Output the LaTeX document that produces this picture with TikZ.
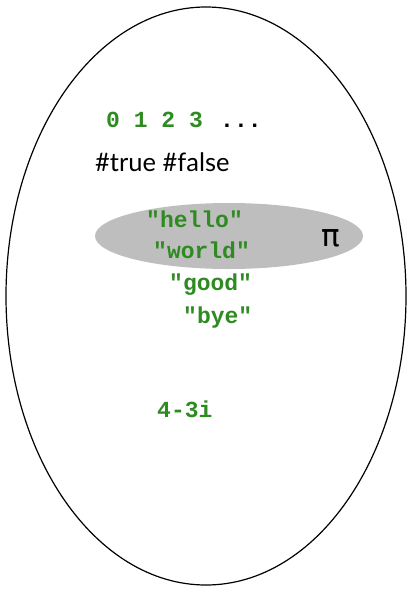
\documentclass[tikz,border=0pt]{standalone}
\usepackage{fontspec}
\setmainfont{Lato}
\setmonofont{Liberation Mono}
\newfontfamily\symfont{DejaVu Sans}
\usetikzlibrary{shapes.geometric}
\definecolor{valgreen}{RGB}{46,139,34}
\definecolor{boxgray}{RGB}{190,190,190}

\begin{document}
\begin{tikzpicture}[
		x=1pt, y=-1pt,
		V/.style = {text=valgreen, anchor=base west, inner sep=0pt,% literal values
			font=\ttfamily\bfseries\fontsize{23}{27}\selectfont},
		T/.style = {anchor=base west, inner sep=0pt,
			font=\fontsize{25.5}{30}\selectfont},
		]
		\useasboundingbox (0,0) rectangle (412,592);
		\node (all) [ellipse, draw, line width=1.2pt, minimum width=400pt, minimum height=578pt] at (206,296) {};
		\node (str) [ellipse, fill=boxgray, minimum width=268pt, minimum height=66pt] at (229,236) {};
		\node (num)  [V] at (106,127) {0 1 2 3};
		\node (dots) [V, text=black] at (220,127) {...};
		\node (bool) [T] at (95,171) {\#true \#false};
		\foreach \s/\x/\y in {hello/146/227, world/153/258, good/169/290, bye/183/323}
		\node (\s) [V] at (\x,\y) {"\s"};
		\node (pi) [anchor=center, inner sep=0pt, font=\symfont\fontsize{31}{35}\selectfont] at (331,238) {π};
		\node (cplx) [V] at (157,417) {4-3i};
	\end{tikzpicture}
\end{document}
